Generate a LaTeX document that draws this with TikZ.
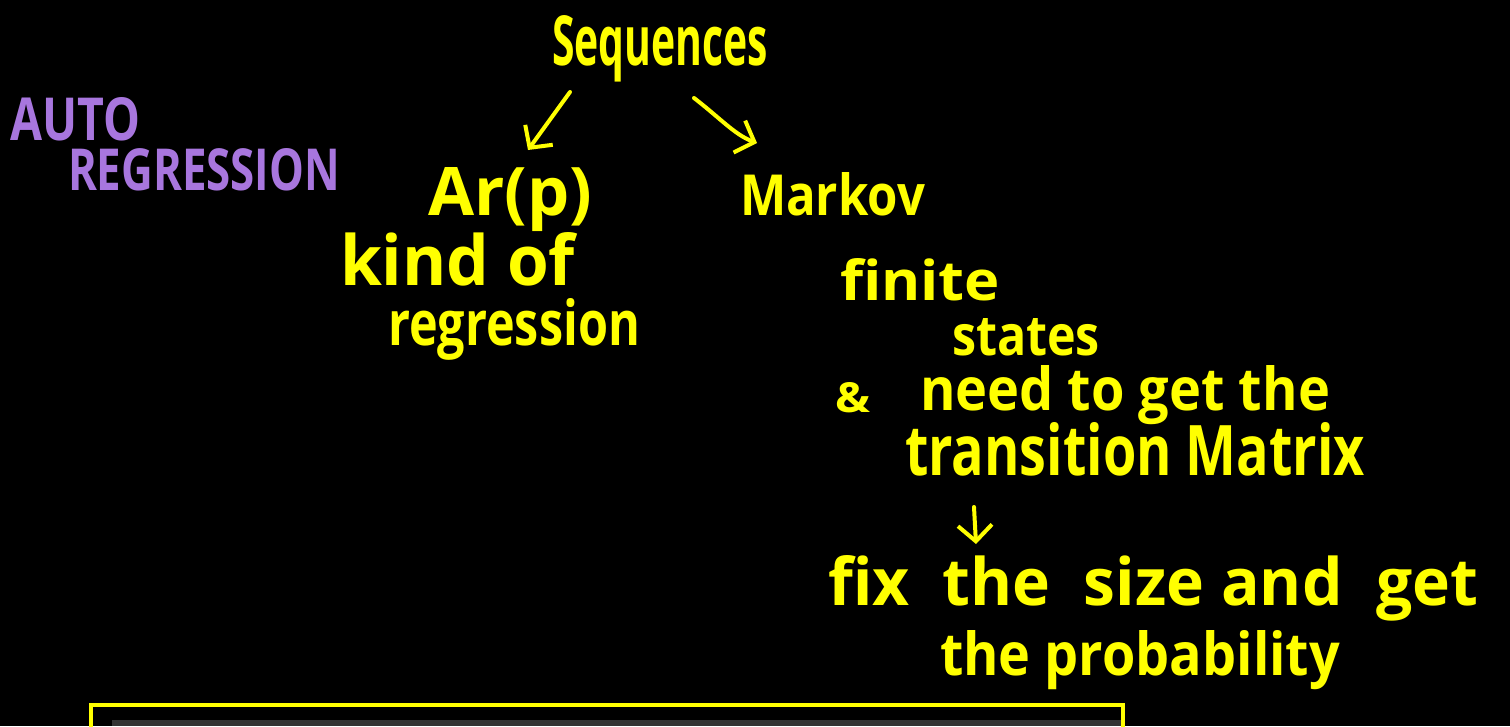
\documentclass[tikz,border=0pt]{standalone}
\usepackage{fontspec}
\setmainfont{Open Sans}
\usetikzlibrary{arrows.meta}
\definecolor{hlyellow}{RGB}{255,255,0}
\definecolor{hlpurple}{RGB}{168,118,222}
\definecolor{panelgray}{RGB}{51,51,51}
\newcommand{\hw}[3]{\resizebox{#1pt}{#2pt}{\fontsize{40}{48}\selectfont\bfseries #3}}
\tikzset{
  ink/.style={inner sep=0pt, outer sep=0pt, anchor=base west, text=hlyellow},
  pink/.style={ink, text=hlpurple},
  pen/.style={draw=hlyellow, line width=4pt, line cap=round, line join=round},
  penarrow/.style={pen, -{Straight Barb[length=16pt, width=34pt, line width=4pt]}},
}
\begin{document}
\begin{tikzpicture}[x=1pt,y=-1pt]
\fill[black] (0,0) rectangle (1510,726);
\useasboundingbox (0,0) rectangle (1510,726);

% titles
\node[ink] (seq) at (552,65) {\hw{216}{50}{Sequences}};
\node[pink] (auto) at (10,140) {\hw{130}{43}{AUTO}};
\node[pink] (regr) at (68,190) {\hw{272}{42}{REGRESSION}};

\node[ink] (ar) at (428,215) {\hw{164}{48}{Ar(p)}};
\node[ink] (markov) at (740,215) {\hw{185}{43}{Markov}};

\node[ink] (kind) at (340,285) {\hw{235}{53}{kind of}};
\node[ink] (regression) at (388,345) {\hw{252}{47}{regression}};

\node[ink] (finite) at (840,300) {\hw{160}{42}{finite}};
\node[ink] (states) at (952,355) {\hw{148}{37}{states}};
\node[ink] (amp) at (835,412) {\hw{35}{30}{\&}};
\node[ink] (need) at (920,410) {\hw{410}{45}{need to get the}};
\node[ink] (trans) at (905,475) {\hw{460}{53}{transition Matrix}};
\node[ink] (fix) at (828,605) {\hw{650}{50}{fix\ \ the\ \ size\ and\ \ get}};
\node[ink] (prob) at (940,675) {\hw{400}{45}{the\ probability}};

% connectors
\coordinate (s1) at (570,92);
\coordinate (a1) at (528,150);
\coordinate (s2) at (694,98);
\coordinate (m1) at (757,143);
\coordinate (t1) at (974,507);
\coordinate (f1) at (976,544);
\draw[penarrow] (s1) -- (a1);
\draw[penarrow] (s2) .. controls (720,118) and (735,135) .. (m1);
\draw[penarrow] (t1) -- (f1);

% bottom panel
\fill[panelgray] (112,720) rectangle (1121,726);
\draw[draw=hlyellow, line width=4pt] (91,728) -- (91,705) -- (1123,705) -- (1123,728);
\end{tikzpicture}
\end{document}
